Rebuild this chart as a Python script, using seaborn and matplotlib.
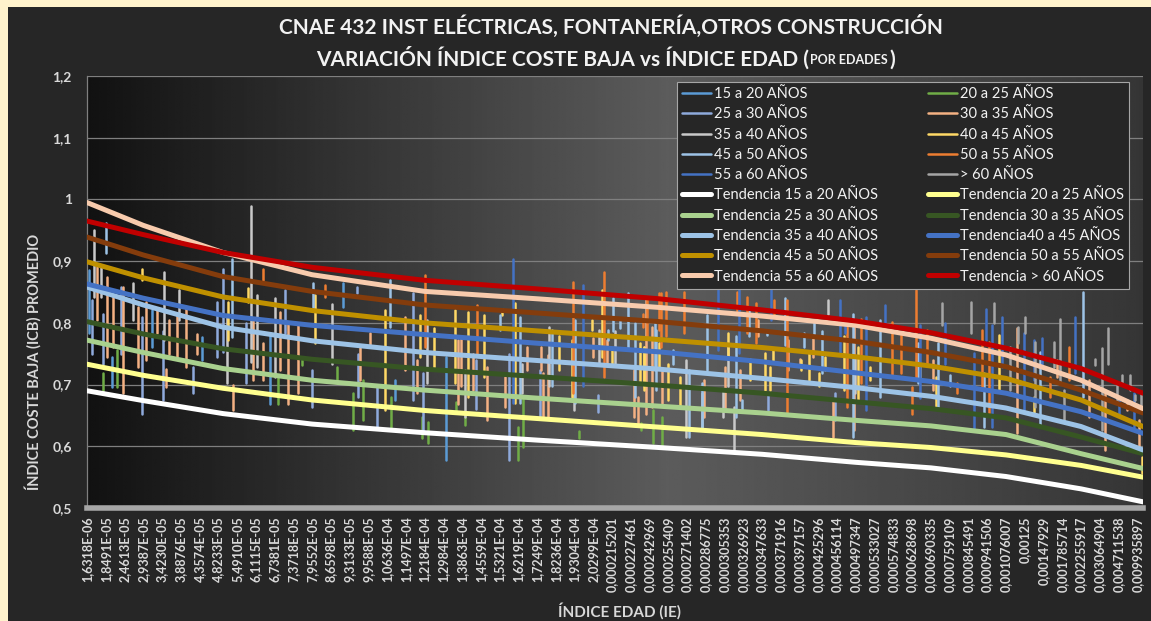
import numpy as np
import pandas as pd
import matplotlib
matplotlib.use("Agg")
import matplotlib.pyplot as plt
from matplotlib.lines import Line2D
from matplotlib.patches import Rectangle
import seaborn as sns

# etiquetas del eje X (índice edad), una cada N categorías como en el original
IE_LABELS = [
    "1,6318E-06", "1,8491E-05", "2,4613E-05", "2,9387E-05", "3,4230E-05", "3,8876E-05",
    "4,3574E-05", "4,8233E-05", "5,4910E-05", "6,1115E-05", "6,7381E-05", "7,3718E-05",
    "7,9552E-05", "8,6598E-05", "9,3133E-05", "9,9588E-05", "1,0636E-04", "1,1497E-04",
    "1,2184E-04", "1,2984E-04", "1,3863E-04", "1,4559E-04", "1,5321E-04", "1,6219E-04",
    "1,7249E-04", "1,8236E-04", "1,9304E-04", "2,0299E-04", "0,000215201", "0,000227461",
    "0,000242969", "0,000255409", "0,000271402", "0,000286775", "0,000305353", "0,000326923",
    "0,000347633", "0,000371916", "0,000397157", "0,000425296", "0,000456114", "0,000497347",
    "0,000533027", "0,000574833", "0,000628698", "0,000690335", "0,000759109", "0,000845491",
    "0,000941506", "0,001076007", "0,00125", "0,00147929", "0,001785714", "0,002255917",
    "0,003064904", "0,004711538", "0,009935897",
]
Y_TICKS = [0.5, 0.6, 0.7, 0.8, 0.9, 1.0, 1.1, 1.2]
Y_TICK_LABELS = ["0,5", "0,6", "0,7", "0,8", "0,9", "1", "1,1", "1,2"]

AGE_GROUPS = ["15 a 20 AÑOS", "20 a 25 AÑOS", "25 a 30 AÑOS", "30 a 35 AÑOS", "35 a 40 AÑOS",
              "40 a 45 AÑOS", "45 a 50 AÑOS", "50 a 55 AÑOS", "55 a 60 AÑOS", "> 60 AÑOS"]
SERIES_COLORS = ["#5B9BD5", "#70AD47", "#8FAADC", "#F4B183", "#C9C9C9",
                 "#FFD966", "#9DC3E6", "#ED7D31", "#4472C4", "#A5A5A5"]
TREND_LABELS = ["Tendencia 15 a 20 AÑOS", "Tendencia 20 a 25 AÑOS", "Tendencia 25 a 30 AÑOS",
                "Tendencia 30 a 35 AÑOS", "Tendencia 35 a 40 AÑOS", "Tendencia40 a 45 AÑOS",
                "Tendencia 45 a 50 AÑOS", "Tendencia 50 a 55 AÑOS", "Tendencia 55 a 60 AÑOS",
                "Tendencia > 60 AÑOS"]
TREND_COLORS = ["#FFFFFF", "#FFFF8F", "#A9D18E", "#375623", "#9DC3E6",
                "#4472C4", "#BF9000", "#843C0C", "#F8CBAD", "#C00000"]

# ICB promedio por grupo de edad: picos (posición de etiqueta, valor alto, valor bajo)
ICB_15_20 = [(0.12, 0.885, 0.783), (1.32, 0.745, 0.696), (3.45, 0.821, 0.761), (6.15, 0.777, 0.740),
             (9.76, 0.783, 0.669), (13.67, 0.864, 0.826), (16.43, 0.707, 0.675), (19.15, 0.745, 0.578)]
ICB_20_25 = [(0.84, 0.718, 0.686), (1.62, 0.756, 0.696), (10.20, 0.713, 0.669), (11.45, 0.740, 0.732),
             (13.32, 0.729, 0.707), (14.17, 0.686, 0.626), (14.74, 0.707, 0.642), (16.20, 0.680, 0.626),
             (17.85, 0.648, 0.613), (18.20, 0.640, 0.605), (19.68, 0.672, 0.656), (20.16, 0.651, 0.634),
             (23.00, 0.632, 0.578), (23.27, 0.678, 0.599), (26.24, 0.624, 0.613), (29.53, 0.637, 0.626),
             (30.17, 0.659, 0.605), (30.65, 0.648, 0.599)]
ICB_25_30 = [(0.25, 0.837, 0.750), (0.87, 0.815, 0.734), (1.80, 0.858, 0.750), (2.95, 0.810, 0.653),
             (4.07, 0.786, 0.675), (5.67, 0.729, 0.686), (6.92, 0.834, 0.745), (7.24, 0.888, 0.753),
             (8.48, 0.799, 0.702), (10.56, 0.853, 0.783), (11.98, 0.723, 0.664), (14.38, 0.858, 0.848),
             (14.47, 0.750, 0.680), (15.45, 0.696, 0.632), (17.40, 0.848, 0.675), (17.94, 0.718, 0.626),
             (20.75, 0.740, 0.660), (22.52, 0.750, 0.578), (24.16, 0.724, 0.648), (27.23, 0.683, 0.656),
             (36.33, 0.686, 0.659), (39.89, 0.686, 0.643)]
ICB_30_35 = [(0.52, 0.891, 0.804), (1.05, 0.875, 0.745), (1.40, 0.842, 0.761), (1.94, 0.858, 0.686),
             (2.74, 0.826, 0.729), (3.15, 0.834, 0.740), (3.75, 0.821, 0.783), (4.21, 0.726, 0.696),
             (4.39, 0.804, 0.750), (4.78, 0.815, 0.745), (5.28, 0.826, 0.729), (5.85, 0.782, 0.750),
             (7.80, 0.699, 0.659), (8.87, 0.804, 0.707), (9.40, 0.767, 0.707), (10.29, 0.818, 0.723),
             (10.74, 0.799, 0.669), (11.27, 0.799, 0.686), (14.56, 0.761, 0.707), (15.09, 0.783, 0.761),
             (16.96, 0.810, 0.723), (17.62, 0.740, 0.686), (19.80, 0.772, 0.669), (19.93, 0.778, 0.697),
             (20.57, 0.750, 0.691), (21.32, 0.729, 0.642), (22.29, 0.713, 0.664), (23.45, 0.761, 0.723),
             (24.21, 0.761, 0.723), (24.30, 0.718, 0.648), (24.57, 0.748, 0.648), (26.97, 0.775, 0.745),
             (27.72, 0.772, 0.734), (29.14, 0.723, 0.648), (29.35, 0.680, 0.637), (29.81, 0.837, 0.653),
             (30.11, 0.794, 0.664), (30.65, 0.724, 0.670), (32.92, 0.707, 0.648), (34.02, 0.729, 0.659),
             (34.82, 0.724, 0.675), (35.80, 0.805, 0.778), (37.40, 0.772, 0.724), (38.02, 0.742, 0.734),
             (38.73, 0.778, 0.745), (39.77, 0.675, 0.615), (40.87, 0.794, 0.626), (45.13, 0.740, 0.691),
             (49.58, 0.791, 0.621), (51.71, 0.740, 0.713), (53.40, 0.707, 0.648), (54.29, 0.691, 0.594),
             (55.45, 0.675, 0.659), (56.07, 0.642, 0.599)]
ICB_35_40 = [(0.39, 0.950, 0.842), (0.73, 0.890, 0.842), (2.47, 0.864, 0.804), (4.11, 0.883, 0.772),
             (4.92, 0.853, 0.804), (7.45, 0.813, 0.702), (8.73, 0.989, 0.737), (9.05, 0.845, 0.729),
             (10.03, 0.840, 0.713), (13.05, 0.831, 0.734), (18.15, 0.805, 0.702), (20.16, 0.723, 0.648),
             (23.18, 0.734, 0.686), (24.64, 0.794, 0.697), (25.97, 0.718, 0.659), (27.31, 0.788, 0.734),
             (28.16, 0.786, 0.734), (31.93, 0.740, 0.615), (32.78, 0.686, 0.632), (33.93, 0.691, 0.648),
             (34.20, 0.761, 0.697), (34.50, 0.664, 0.594), (39.53, 0.837, 0.815), (40.95, 0.745, 0.686)]
ICB_40_45 = [(2.92, 0.888, 0.869), (7.54, 0.834, 0.772), (8.57, 0.857, 0.834), (12.16, 0.845, 0.767),
             (15.89, 0.821, 0.659), (17.76, 0.813, 0.745), (18.51, 0.791, 0.723), (19.63, 0.821, 0.702),
             (20.30, 0.818, 0.680), (21.19, 0.813, 0.713), (22.15, 0.823, 0.813), (22.83, 0.832, 0.670),
             (25.14, 0.778, 0.723), (25.85, 0.772, 0.680), (26.92, 0.805, 0.788), (27.45, 0.853, 0.745),
             (27.98, 0.756, 0.734), (29.49, 0.767, 0.702), (29.71, 0.761, 0.691), (29.67, 0.761, 0.697),
             (30.47, 0.767, 0.729), (30.95, 0.734, 0.675), (31.62, 0.713, 0.664), (34.15, 0.783, 0.745),
             (35.36, 0.742, 0.707), (36.16, 0.751, 0.691), (36.40, 0.729, 0.691), (36.60, 0.756, 0.740),
             (38.05, 0.740, 0.724), (38.47, 0.751, 0.707), (39.00, 0.718, 0.697), (39.36, 0.745, 0.724),
             (40.37, 0.778, 0.691), (41.08, 0.761, 0.675), (41.72, 0.729, 0.707), (44.42, 0.734, 0.713),
             (45.28, 0.713, 0.664), (48.60, 0.780, 0.691), (50.47, 0.680, 0.653), (56.25, 0.583, 0.556)]
ICB_45_50 = [(1.01, 0.961, 0.913), (7.72, 0.904, 0.777), (12.07, 0.864, 0.826), (16.16, 0.869, 0.794),
             (22.03, 0.813, 0.788), (23.09, 0.810, 0.670), (24.78, 0.788, 0.697), (26.04, 0.805, 0.670),
             (27.76, 0.788, 0.772), (28.02, 0.840, 0.786), (28.43, 0.805, 0.791), (28.82, 0.848, 0.756),
             (29.23, 0.799, 0.680), (30.29, 0.799, 0.723), (30.34, 0.788, 0.691), (31.23, 0.756, 0.734),
             (32.07, 0.724, 0.615), (32.80, 0.702, 0.632), (33.05, 0.813, 0.724), (34.61, 0.778, 0.648),
             (34.91, 0.675, 0.659), (35.27, 0.821, 0.778), (36.25, 0.786, 0.780), (37.22, 0.840, 0.764),
             (38.20, 0.783, 0.761), (38.78, 0.805, 0.778), (39.18, 0.786, 0.718), (40.83, 0.815, 0.615),
             (42.29, 0.805, 0.680), (44.33, 0.767, 0.702), (45.35, 0.767, 0.664), (46.02, 0.715, 0.697),
             (47.80, 0.718, 0.632), (50.82, 0.753, 0.632), (53.10, 0.850, 0.680)]
ICB_50_55 = [(9.37, 0.888, 0.869), (12.69, 0.861, 0.842), (18.03, 0.877, 0.761), (20.78, 0.829, 0.750),
             (25.90, 0.867, 0.686), (27.57, 0.883, 0.713), (29.62, 0.815, 0.794), (29.85, 0.837, 0.777),
             (30.52, 0.848, 0.788), (30.62, 0.848, 0.761), (30.88, 0.850, 0.778), (31.85, 0.850, 0.783),
             (34.65, 0.850, 0.815), (35.18, 0.842, 0.783), (35.68, 0.832, 0.767), (36.65, 0.837, 0.815),
             (37.31, 0.837, 0.653), (40.51, 0.805, 0.664), (41.26, 0.807, 0.702), (42.91, 0.802, 0.713),
             (43.39, 0.780, 0.718), (43.98, 0.696, 0.653), (44.21, 0.853, 0.707), (44.81, 0.788, 0.734),
             (46.38, 0.702, 0.686), (47.71, 0.788, 0.691), (48.07, 0.769, 0.653), (51.32, 0.713, 0.680),
             (52.33, 0.761, 0.707)]
ICB_55_60 = [(22.70, 0.904, 0.670), (26.44, 0.861, 0.697), (33.63, 0.853, 0.756), (34.77, 0.853, 0.751),
             (36.48, 0.853, 0.805), (40.16, 0.837, 0.751), (40.42, 0.799, 0.783), (41.54, 0.810, 0.659),
             (42.56, 0.829, 0.794), (44.39, 0.796, 0.678), (45.76, 0.799, 0.734), (47.30, 0.751, 0.626),
             (47.94, 0.823, 0.772), (48.25, 0.796, 0.632), (48.78, 0.810, 0.729), (49.93, 0.783, 0.659),
             (50.50, 0.772, 0.707), (50.91, 0.775, 0.734), (52.69, 0.810, 0.718), (55.00, 0.675, 0.653),
             (55.80, 0.686, 0.632)]
ICB_60 = [(45.58, 0.832, 0.796), (47.14, 0.833, 0.783), (48.33, 0.832, 0.799), (49.19, 0.761, 0.691),
          (49.62, 0.794, 0.767), (50.02, 0.810, 0.783), (50.56, 0.769, 0.664), (51.53, 0.769, 0.729),
          (51.89, 0.807, 0.702), (52.07, 0.691, 0.642), (53.76, 0.742, 0.732), (54.11, 0.759, 0.626),
          (54.43, 0.791, 0.734), (54.91, 0.702, 0.670), (55.18, 0.715, 0.702), (55.59, 0.715, 0.691),
          (55.89, 0.683, 0.675), (56.19, 0.686, 0.664)]
ICB_SERIES = [ICB_15_20, ICB_20_25, ICB_25_30, ICB_30_35, ICB_35_40,
              ICB_40_45, ICB_45_50, ICB_50_55, ICB_55_60, ICB_60]

TREND_X = [0, 3, 7.25, 12, 18, 24, 30.5, 36, 41, 45, 49, 53, 56.3]
TR_15_20 = [0.690, 0.674, 0.653, 0.636, 0.622, 0.610, 0.598, 0.587, 0.574, 0.565, 0.551, 0.531, 0.510]
TR_20_25 = [0.733, 0.715, 0.694, 0.675, 0.658, 0.645, 0.631, 0.619, 0.606, 0.598, 0.586, 0.569, 0.550]
TR_25_30 = [0.772, 0.752, 0.726, 0.707, 0.691, 0.678, 0.665, 0.654, 0.642, 0.633, 0.619, 0.588, 0.564]
TR_30_35 = [0.802, 0.782, 0.758, 0.741, 0.725, 0.713, 0.699, 0.686, 0.672, 0.661, 0.646, 0.615, 0.588]
TR_35_40 = [0.858, 0.829, 0.793, 0.771, 0.752, 0.739, 0.725, 0.710, 0.695, 0.681, 0.662, 0.632, 0.594]
TR_40_45 = [0.863, 0.840, 0.812, 0.796, 0.781, 0.767, 0.753, 0.737, 0.719, 0.705, 0.686, 0.656, 0.621]
TR_45_50 = [0.899, 0.873, 0.842, 0.820, 0.800, 0.787, 0.773, 0.760, 0.745, 0.730, 0.710, 0.675, 0.632]
TR_50_55 = [0.939, 0.910, 0.875, 0.851, 0.829, 0.816, 0.802, 0.787, 0.770, 0.752, 0.729, 0.691, 0.654]
TR_55_60 = [0.995, 0.958, 0.914, 0.878, 0.851, 0.839, 0.825, 0.811, 0.796, 0.775, 0.748, 0.707, 0.661]
TR_60 = [0.965, 0.943, 0.914, 0.890, 0.869, 0.855, 0.839, 0.821, 0.803, 0.784, 0.759, 0.726, 0.686]
TREND_SERIES = [TR_15_20, TR_20_25, TR_25_30, TR_30_35, TR_35_40,
                TR_40_45, TR_45_50, TR_50_55, TR_55_60, TR_60]

sns.set_style("dark")
plt.rcParams["font.family"] = ["Lato", "DejaVu Sans"]

TXT = "#D9D9D9"

rows = []
for name, spikes in zip(AGE_GROUPS, ICB_SERIES):
    for i, (x, hi, lo) in enumerate(spikes):
        rows.append({"serie": name, "unit": f"{name}_{i}", "x": x, "y": hi})
        rows.append({"serie": name, "unit": f"{name}_{i}", "x": x, "y": lo})
df_icb = pd.DataFrame(rows)

df_trend = pd.DataFrame([
    {"serie": name, "x": x, "y": y}
    for name, vals in zip(TREND_LABELS, TREND_SERIES)
    for x, y in zip(TREND_X, vals)
])

fig = plt.figure(figsize=(11.51, 6.21), dpi=100, facecolor="#FFF2CC")
fig.add_artist(Rectangle((8 / 1151, 0), 1, 1 - 7 / 621, transform=fig.transFigure,
                         facecolor="#262626", edgecolor="none", zorder=-10))

ax = fig.add_axes([87 / 1151, 113 / 621, 1056 / 1151, 432 / 621])
ax.set_facecolor("none")

# fondo del área de trazado con degradado horizontal
grad = np.interp(np.linspace(0, 1, 400), [0, 0.55, 1], [0.07, 0.36, 0.21])
ax.imshow(np.tile(grad, (2, 1)), cmap="gray", vmin=0, vmax=1, extent=(0, 1, 0, 1),
          transform=ax.transAxes, aspect="auto", zorder=0, interpolation="bilinear")

sns.lineplot(data=df_icb, x="x", y="y", hue="serie", hue_order=AGE_GROUPS,
             palette=dict(zip(AGE_GROUPS, SERIES_COLORS)), units="unit", estimator=None,
             sort=False, lw=1.8, legend=False, ax=ax, zorder=2)
sns.lineplot(data=df_trend, x="x", y="y", hue="serie", hue_order=TREND_LABELS,
             palette=dict(zip(TREND_LABELS, TREND_COLORS)), estimator=None,
             sort=False, lw=3.6, legend=False, ax=ax, zorder=3)

ax.set_xlim(0, 56.3)
ax.set_ylim(0.5, 1.2)
ax.set_yticks(Y_TICKS)
ax.set_yticklabels(Y_TICK_LABELS, fontsize=10, fontweight="bold", color=TXT)
ax.set_xticks(range(len(IE_LABELS)))
ax.set_xticklabels(IE_LABELS, rotation=90, fontsize=9, fontweight="bold", color=TXT)
ax.tick_params(axis="y", length=5, width=0.8, color="#7F7F7F", pad=6)
ax.tick_params(axis="x", length=0, pad=6)
ax.set_xlabel("")
ax.set_ylabel("")
ax.grid(axis="y", color="#7F7F7F", lw=0.9)
ax.grid(axis="x", visible=False)
for s in ["top", "right"]:
    ax.spines[s].set_visible(False)
ax.spines["left"].set_color("#7F7F7F")
ax.spines["left"].set_linewidth(0.9)
ax.spines["bottom"].set_color("#A6A6A6")
ax.spines["bottom"].set_linewidth(4)

# leyenda en dos columnas, orden por filas como en Excel
handles = [Line2D([], [], color=c, lw=1.8) for c in SERIES_COLORS] + \
          [Line2D([], [], color=c, lw=3.6) for c in TREND_COLORS]
labels = AGE_GROUPS + TREND_LABELS
order = list(range(0, 20, 2)) + list(range(1, 20, 2))
leg = ax.legend([handles[i] for i in order], [labels[i] for i in order], ncol=2,
                loc="upper left", bbox_to_anchor=(677 / 1151, 1 - 82 / 621),
                bbox_transform=fig.transFigure, borderaxespad=0, frameon=True,
                fontsize=10.5, labelcolor="#F2F2F2", facecolor="#262626", edgecolor="#A6A6A6",
                framealpha=1, fancybox=False, handlelength=2.0, handletextpad=0.2,
                columnspacing=3.4, labelspacing=0.43, borderpad=0.35)
leg.get_frame().set_linewidth(0.8)
leg.set_zorder(5)

# títulos
fig.text(611 / 1151, 1 - 26 / 621, "CNAE 432 INST ELÉCTRICAS, FONTANERÍA,OTROS CONSTRUCCIÓN",
         ha="center", va="center", fontsize=15, fontweight="bold", color="#F2F2F2")
t2 = fig.text(316 / 1151, 1 - 66 / 621, "VARIACIÓN ÍNDICE COSTE BAJA vs ÍNDICE EDAD (",
              ha="left", va="baseline", fontsize=15, fontweight="bold", color="#F2F2F2")
t3 = ax.annotate("POR EDADES", xy=(1, 0), xycoords=t2, xytext=(1, 3.2), textcoords="offset points",
                 ha="left", va="bottom", fontsize=9, fontweight="bold", color="#F2F2F2",
                 annotation_clip=False)
ax.annotate(")", xy=(1, 0), xycoords=t3, xytext=(1, -3.2), textcoords="offset points",
            ha="left", va="bottom", fontsize=15, fontweight="bold", color="#F2F2F2",
            annotation_clip=False)

fig.text(33 / 1151, 1 - 362 / 621, "ÍNDICE COSTE BAJA (ICB) PROMEDIO", rotation=90,
         ha="center", va="center", fontsize=10.5, fontweight="bold", color=TXT)
fig.text(620 / 1151, 1 - 611 / 621, "ÍNDICE EDAD (IE)", ha="center", va="center",
         fontsize=11, fontweight="bold", color=TXT)

fig.savefig("out.png", dpi=100, facecolor=fig.get_facecolor())
